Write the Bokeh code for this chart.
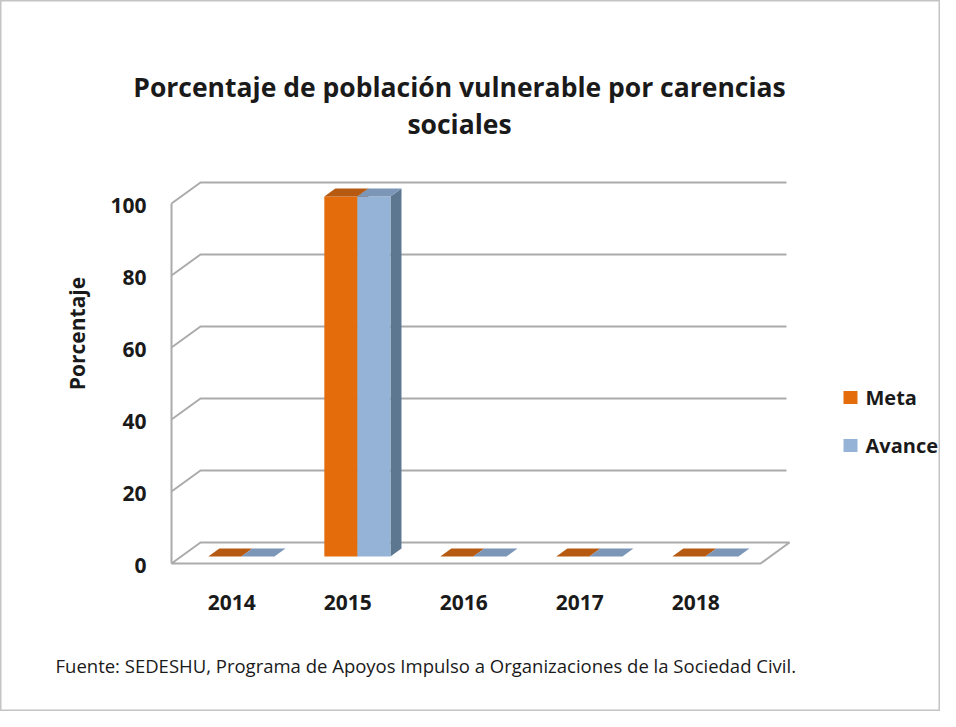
from bokeh.plotting import figure
from bokeh.models import Range1d
from bokeh.core.properties import value
from bokeh.embed import file_html
from bokeh.resources import INLINE
import math

# ---------------- data ----------------
years = ["2014", "2015", "2016", "2017", "2018"]
meta = [0, 100, 0, 0, 0]
avance = [0, 100, 0, 0, 0]
y_ticks = [0, 20, 40, 60, 80, 100]
series_names = ["Meta", "Avance"]
title_lines = ["Porcentaje de población vulnerable por carencias", "sociales"]
y_label = "Porcentaje"
source_note = "Fuente: SEDESHU, Programa de Apoyos Impulso a Organizaciones de la Sociedad Civil."

# ---------------- style / geometry ----------------
FONT = "Open Sans"
W, H = 940, 711
PX_X = 116.0   # px per category
PX_Y = 3.6     # px per percent
X0_IMG, Y0_IMG = 171, 563
ORIGIN_X, ORIGIN_Y = 0, 0
def X(img_x):
    return (img_x - X0_IMG) / PX_X
def Y(img_y):
    return (Y0_IMG - img_y) / PX_Y

DX, DY = 29 / PX_X, 21 / PX_Y           # depth offsets (back wall)
D0, D1 = 0.33, 0.71                     # bar depth range
BAR_W = 0.285
CAT0 = 0.52
FLOOR_W = X(760)
BACK_END = X(786)

meta_cols = dict(front="#E46C0A", top="#B65A12", side="#A0500F")
av_cols = dict(front="#95B3D7", top="#7C96B8", side="#5E7791")
grid_col = "#ABABAB"
text_col = "#1A1A1A"

p = figure(width=W, height=H, output_backend="svg", toolbar_location=None,
           x_range=Range1d(X(ORIGIN_X), X(ORIGIN_X + W)),
           y_range=Range1d(Y(ORIGIN_Y + H), Y(ORIGIN_Y)),
           min_border=0, min_border_left=0, min_border_right=0,
           min_border_top=0, min_border_bottom=0)
p.xaxis.visible = False
p.yaxis.visible = False
p.grid.visible = False
p.outline_line_color = "#C4C4C4"
p.outline_line_width = 2
p.background_fill_color = "white"
p.border_fill_color = "white"

# back wall gridlines with diagonal on the side wall
gx, gy = [], []
for v in y_ticks[1:]:
    gx.append([0, DX, BACK_END])
    gy.append([v, v + DY, v + DY])
p.multi_line(gx, gy, line_color=grid_col, line_width=2)

# floor
p.patch([0, FLOOR_W, FLOOR_W + DX, DX], [0, 0, DY, DY],
        fill_color="white", line_color=grid_col, line_width=2)

# front vertical axis line
p.line([0, 0], [0, y_ticks[-1]], line_color=grid_col, line_width=2)

def bar_faces(xl, xr, v):
    front = ([xl + D0 * DX, xr + D0 * DX, xr + D0 * DX, xl + D0 * DX],
             [D0 * DY, D0 * DY, v + D0 * DY, v + D0 * DY])
    top = ([xl + D0 * DX, xr + D0 * DX, xr + D1 * DX, xl + D1 * DX],
           [v + D0 * DY, v + D0 * DY, v + D1 * DY, v + D1 * DY])
    side = ([xr + D0 * DX, xr + D1 * DX, xr + D1 * DX, xr + D0 * DX],
            [D0 * DY, D1 * DY, v + D1 * DY, v + D0 * DY])
    return front, top, side

for i, yr in enumerate(years):
    c = CAT0 + i
    for vals, xl, xr, cols in ((meta, c - BAR_W, c, meta_cols),
                               (avance, c, c + BAR_W, av_cols)):
        v = vals[i]
        front, top, side = bar_faces(xl, xr, v)
        if v > 0:
            p.patch(side[0], side[1], fill_color=cols["side"], line_color=None)
            p.patch(front[0], front[1], fill_color=cols["front"], line_color=None)
        p.patch(top[0], top[1], fill_color=cols["top"], line_color=None)

# y tick labels
p.text(x=[X(146)] * len(y_ticks), y=[v - 0.6 for v in y_ticks],
       text=[str(v) for v in y_ticks], text_align="right", text_baseline="middle",
       text_font=value(FONT), text_font_style="bold", text_font_size="21px",
       text_color=text_col)

# x tick labels
p.text(x=[CAT0 + i for i in range(len(years))], y=[Y(602)] * len(years),
       text=years, text_align="center", text_baseline="middle",
       text_font=value(FONT), text_font_style="bold", text_font_size="21px",
       text_color=text_col)

# y axis label
p.text(x=[X(76)], y=[Y(333)], text=[y_label], angle=math.pi / 2,
       text_align="center", text_baseline="middle",
       text_font=value(FONT), text_font_style="bold", text_font_size="21px",
       text_color=text_col)

# title
p.text(x=[X(459), X(459)], y=[Y(86), Y(123)], text=title_lines,
       text_align="center", text_baseline="middle",
       text_font=value(FONT), text_font_style="bold", text_font_size="26.5px",
       text_color=text_col)

# legend
leg_y = [Y(397), Y(445)]
p.rect(x=[X(850)] * 2, y=leg_y, width=14 / PX_X, height=13 / PX_Y,
       fill_color=[meta_cols["front"], av_cols["front"]], line_color=None)
p.text(x=[X(865)] * 2, y=leg_y, text=series_names, text_align="left",
       text_baseline="middle", text_font=value(FONT), text_font_style="bold",
       text_font_size="20px", text_color=text_col)

# source note
p.text(x=[X(55)], y=[Y(665)], text=[source_note], text_align="left",
       text_baseline="middle", text_font=value(FONT), text_font_size="18.5px",
       text_color=text_col)

open("out.html", "w").write(file_html(p, INLINE))
